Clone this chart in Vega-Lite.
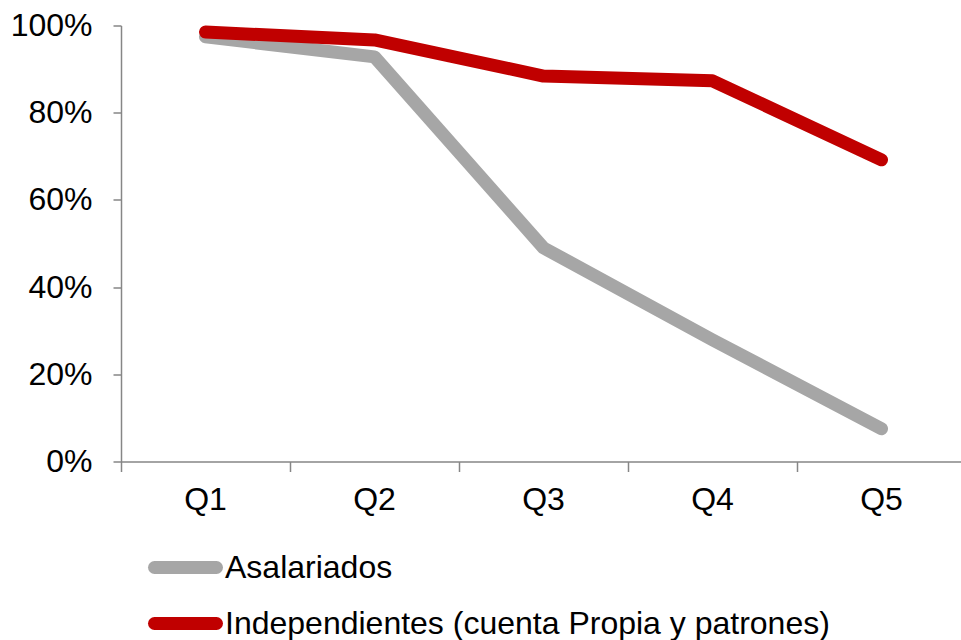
{
  "$schema": "https://vega.github.io/schema/vega-lite/v6.json",
  "width": 840,
  "height": 436,
  "autosize": {"type": "none"},
  "padding": {"left": 121, "top": 25.5, "right": 0, "bottom": 178.5},
  "background": "white",
  "config": {
    "view": {"stroke": null},
    "font": "Liberation Sans"
  },
  "data": {
    "values": [
      {"q": "Q1", "serie": "Asalariados", "v": 97.4},
      {"q": "Q2", "serie": "Asalariados", "v": 92.8},
      {"q": "Q3", "serie": "Asalariados", "v": 49.0},
      {"q": "Q4", "serie": "Asalariados", "v": 27.9},
      {"q": "Q5", "serie": "Asalariados", "v": 7.5},
      {"q": "Q1", "serie": "Independientes (cuenta Propia y patrones)", "v": 98.5},
      {"q": "Q2", "serie": "Independientes (cuenta Propia y patrones)", "v": 96.7},
      {"q": "Q3", "serie": "Independientes (cuenta Propia y patrones)", "v": 88.4},
      {"q": "Q4", "serie": "Independientes (cuenta Propia y patrones)", "v": 87.3},
      {"q": "Q5", "serie": "Independientes (cuenta Propia y patrones)", "v": 69.2}
    ]
  },
  "mark": {"type": "line", "strokeWidth": 13, "strokeCap": "round", "strokeJoin": "round"},
  "encoding": {
    "x": {
      "field": "q", "type": "ordinal", "title": null,
      "scale": {"type": "band", "paddingInner": 0, "paddingOuter": 0, "range": [0, 845]},
      "axis": {
        "bandPosition": 0, "labelAngle": 0, "labelFontSize": 32, "labelColor": "black",
        "labelFont": "Liberation Sans", "tickSize": 10, "tickColor": "#868686", "tickWidth": 1.5,
        "domainColor": "#868686", "domainWidth": 1.5, "labelPadding": 13, "grid": false,
        "labelBaseline": "top"
      }
    },
    "y": {
      "field": "v", "type": "quantitative", "title": null,
      "scale": {"domain": [0, 100], "nice": false},
      "axis": {
        "values": [0, 20, 40, 60, 80, 100],
        "labelExpr": "datum.value + '%'",
        "labelFontSize": 32, "labelColor": "black", "labelFont": "Liberation Sans",
        "tickSize": 8, "tickColor": "#868686", "tickWidth": 1.5,
        "domainColor": "#868686", "domainWidth": 1.5, "labelPadding": 21, "grid": false
      }
    },
    "color": {
      "field": "serie", "type": "nominal", "title": null,
      "scale": {
        "domain": ["Asalariados", "Independientes (cuenta Propia y patrones)"],
        "range": ["#A6A6A6", "#C00000"]
      },
      "legend": {
        "orient": "none",
        "legendX": 27,
        "legendY": 520,
        "direction": "vertical",
        "symbolType": "M-1,0H3",
        "symbolSize": 961,
        "symbolStrokeWidth": 13,
        "symbolFillColor": "transparent",
        "labelFontSize": 32,
        "labelFont": "Liberation Sans",
        "labelColor": "black",
        "labelOffset": 33,
        "rowPadding": 4,
        "labelLimit": 800,
        "encode": {"symbols": {"update": {"strokeCap": {"value": "round"}}}}
      }
    }
  }
}
